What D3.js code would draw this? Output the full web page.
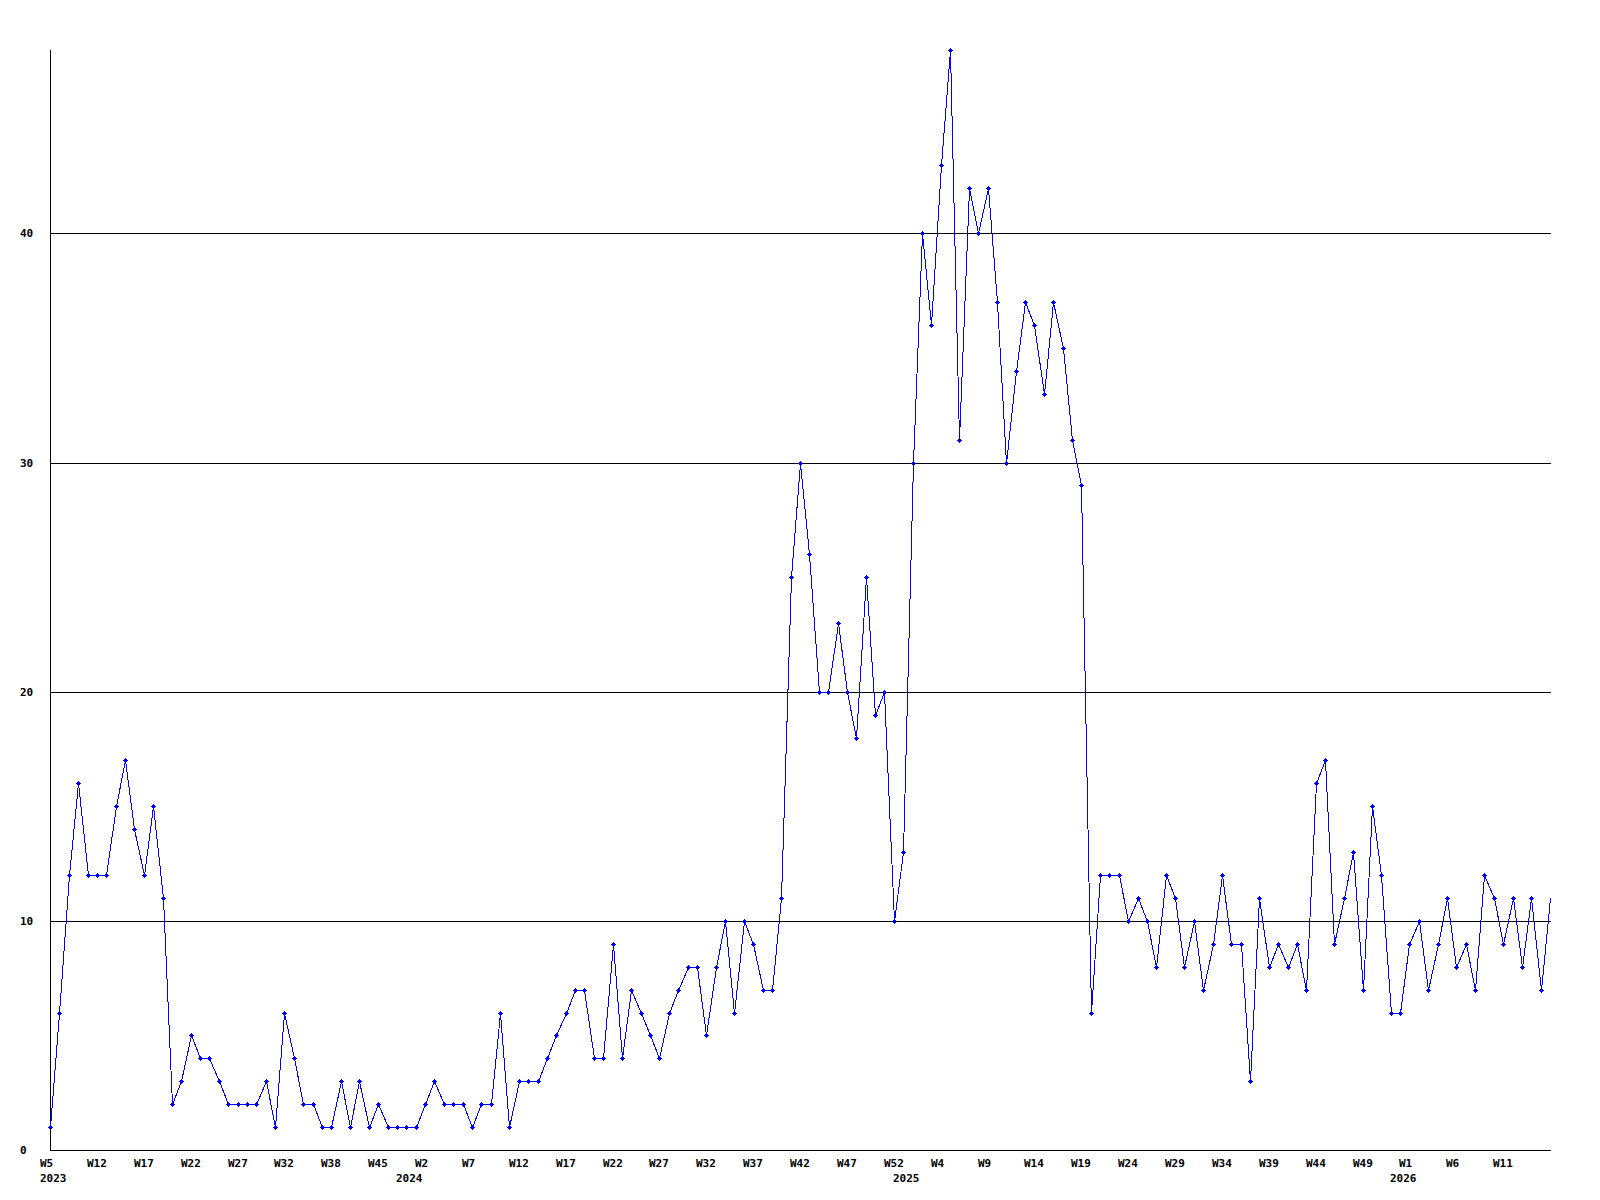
<!DOCTYPE html>
<html>
<head>
<meta charset="utf-8">
<script src="https://cdn.jsdelivr.net/npm/d3@7"></script>
<style>
  html, body { margin: 0; padding: 0; background: #fff; }
  svg { display: block; }
  text { font-family: "DejaVu Sans Mono", "Liberation Mono", monospace; font-weight: bold; font-size: 11px; fill: #000; }
</style>
</head>
<body>
<svg id="chart" width="1600" height="1200"></svg>
<script>
// Weekly counts, one value per data point (weeks without data are skipped)
const values = [
  1, 6, 12, 16, 12, 12, 12, 15, 17, 14,
  12, 15, 11, 2, 3, 5, 4, 4, 3, 2,
  2, 2, 2, 3, 1, 6, 4, 2, 2, 1,
  1, 3, 1, 3, 1, 2, 1, 1, 1, 1,
  2, 3, 2, 2, 2, 1, 2, 2, 6, 1,
  3, 3, 3, 4, 5, 6, 7, 7, 4, 4,
  9, 4, 7, 6, 5, 4, 6, 7, 8, 8,
  5, 8, 10, 6, 10, 9, 7, 7, 11, 25,
  30, 26, 20, 20, 23, 20, 18, 25, 19, 20,
  10, 13, 30, 40, 36, 43, 48, 31, 42, 40,
  42, 37, 30, 34, 37, 36, 33, 37, 35, 31,
  29, 6, 12, 12, 12, 10, 11, 10, 8, 12,
  11, 8, 10, 7, 9, 12, 9, 9, 3, 11,
  8, 9, 8, 9, 7, 16, 17, 9, 11, 13,
  7, 15, 12, 6, 6, 9, 10, 7, 9, 11,
  8, 9, 7, 12, 11, 9, 11, 8, 11, 7,
  11
];

// Week labels shown on every 5th data point
const weekTicks = [
  "W5", "W12", "W17", "W22", "W27", "W32", "W38", "W45",
  "W2", "W7", "W12", "W17", "W22", "W27", "W32", "W37", "W42", "W47", "W52",
  "W4", "W9", "W14", "W19", "W24", "W29", "W34", "W39", "W44", "W49",
  "W1", "W6", "W11"
];
const weekTickStep = 5;

// Year labels and the data point each one sits under
const yearLabels = ["2023", "2024", "2025", "2026"];
const yearPoints = [0, 38, 91, 144];

const yTicks = [0, 10, 20, 30, 40];
const yMax = 48;

(function () {
  const svg = d3.select("#chart");
  const pLeft = 50, pRight = 1550, pTop = 50, pBottom = 1150;

  const x = d3.scalePoint()
    .domain(d3.range(values.length))
    .range([pLeft, pRight]);

  const y = d3.scaleLinear()
    .domain([0, yMax])
    .range([pBottom, pTop]);

  // Horizontal grid lines
  svg.append("g")
    .selectAll("line")
    .data(yTicks.filter(d => d > 0))
    .join("line")
    .attr("x1", pLeft)
    .attr("x2", pRight + 1)
    .attr("y1", d => Math.round(y(d)) + 0.5)
    .attr("y2", d => Math.round(y(d)) + 0.5)
    .attr("stroke", "#000")
    .attr("stroke-width", 1)
    .attr("shape-rendering", "crispEdges");

  // Axis lines
  svg.append("line")
    .attr("x1", pLeft + 0.5).attr("x2", pLeft + 0.5)
    .attr("y1", pTop).attr("y2", pBottom + 1)
    .attr("stroke", "#000").attr("shape-rendering", "crispEdges");
  svg.append("line")
    .attr("x1", pLeft).attr("x2", pRight + 1)
    .attr("y1", pBottom + 0.5).attr("y2", pBottom + 0.5)
    .attr("stroke", "#000").attr("shape-rendering", "crispEdges");

  // Y labels
  svg.append("g")
    .selectAll("text")
    .data(yTicks)
    .join("text")
    .attr("x", 20)
    .attr("y", d => Math.round(y(d)) + 4)
    .text(d => d);

  // Week labels
  svg.append("g")
    .selectAll("text")
    .data(weekTicks)
    .join("text")
    .attr("x", (d, i) => Math.round(x(i * weekTickStep)) - 10)
    .attr("y", pBottom + 17)
    .text(d => d);

  // Year labels
  svg.append("g")
    .selectAll("text")
    .data(yearLabels)
    .join("text")
    .attr("x", (d, i) => Math.round(x(yearPoints[i])) - 10)
    .attr("y", pBottom + 32)
    .text(d => d);

  // Clip to the plot area
  svg.append("defs").append("clipPath").attr("id", "plot")
    .append("rect")
    .attr("x", pLeft - 4).attr("y", pTop - 4)
    .attr("width", pRight - pLeft + 5).attr("height", pBottom - pTop + 4);

  const plot = svg.append("g").attr("clip-path", "url(#plot)");

  const line = d3.line()
    .x((d, i) => Math.round(x(i)) + 0.5)
    .y(d => Math.round(y(d)) + 0.5);

  plot.append("path")
    .datum(values)
    .attr("d", line)
    .attr("fill", "none")
    .attr("stroke", "#0000ff")
    .attr("stroke-width", 1)
    .attr("shape-rendering", "crispEdges");

  // Markers: small plus shapes (last point sits on the edge, unmarked)
  const marker = "M-2,0h5v1h-5z M0,-2h1v5h-1z M-1,-1h3v3h-3z";
  plot.append("g")
    .selectAll("path")
    .data(values.slice(0, values.length - 1))
    .join("path")
    .attr("transform", (d, i) => `translate(${Math.round(x(i))},${Math.round(y(d))})`)
    .attr("d", marker)
    .attr("fill", "#0000ff")
    .attr("shape-rendering", "crispEdges");
})();
</script>
</body>
</html>
